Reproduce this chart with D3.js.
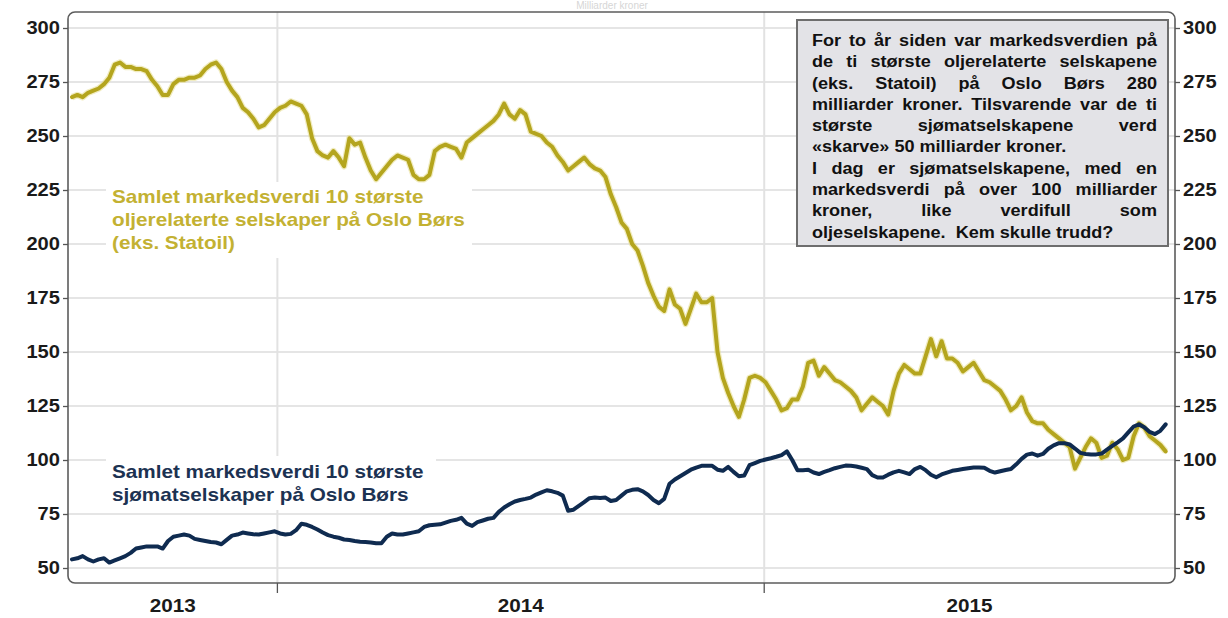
<!DOCTYPE html>
<html><head><meta charset="utf-8">
<script src="https://cdn.jsdelivr.net/npm/d3@7"></script>
<style>body{margin:0;background:#fff}svg{display:block}</style>
</head><body>
<svg id="c" width="1228" height="618"></svg>
<script>
// ---------- data ----------
const startDate = "2013-07-31";   // first observation
const stepDays = 4;               // one observation every 4 days
const oilValues = [
 268,269,268,270,271,272,274,277,283,284,
 282,282,281,281,280,276,273,269,269,274,
 276,276,277,277,278,281,283,284,281,275,
 271,268,263,261,258,254,255,258,261,263,
 264,266,265,264,260,249,243,241,240,243,
 240,236,249,246,247,240,234,230,233,236,
 239,241,240,239,232,230,230,232,243,245,
 246,245,244,240,247,249,251,253,255,257,
 260,265,260,258,262,260,252,251,250,247,
 245,241,238,234,236,238,240,237,235,234,
 231,223,217,210,207,200,197,190,182,176,
 171,169,179,172,170,163,170,177,173,173,
 175,150,138,131,125,120,128,138,139,138,
 136,132,128,123,124,128,128,134,145,146,
 139,143,140,137,136,134,132,129,123,126,
 129,127,125,121,132,140,144,142,140,140,
 148,156,148,155,147,147,145,141,143,145,
 141,137,136,134,132,128,123,125,129,122,
 118,117,117,114,112,110,108,106,96,101,
 106,110,108,101,102,108,105,100,101,111,
 117,115,111,109,107,104
];
const seafoodValues = [
 54,54.5,55.5,54,53,54,54.5,52.5,53.5,54.5,
 55.5,57,59,59.5,60,60,60,59,62.5,64.5,
 65,65.5,65,63.5,63,62.5,62,61.8,61,63,
 65,65.5,66.4,66,65.6,65.5,66,66.5,67,66,
 65.5,65.8,67.5,70.5,70,69,67.8,66.4,65.2,64.5,
 64,63.2,63,62.5,62.2,62,61.8,61.5,61.5,64.5,
 66,65.5,65.5,66,66.5,67,69,69.8,70,70.2,
 71,71.8,72.3,73.2,70.5,69.5,71.2,72,72.8,73.2,
 76,78,79.5,80.8,81.5,82,82.6,84,85,86,
 85.5,84.8,83.5,76.5,77,78.8,80.5,82.3,82.6,82.4,
 82.6,81,81.5,83.5,85.5,86.2,86.5,85.5,83.8,81.5,
 80,82,89,91,92.5,94,95.5,96.5,97.3,97.3,
 97.3,95.5,95,96.8,94.5,92.5,92.8,97.6,98.6,99.6,
 100.2,100.8,101.5,102.3,104,100,95.2,95.3,95.5,94.2,
 93.5,94.5,95.3,96.2,96.8,97.4,97.3,97,96.4,95.8,
 93,91.9,91.9,93.2,94.3,95,94.3,93.5,95.8,96.8,
 95.3,93.2,92,93.3,94.2,95,95.4,95.8,96.2,96.5,
 96.5,96.4,95,94.2,94.8,95.4,95.8,98,100.5,102.5,
 103,102,102.8,105.2,106.8,107.8,107.8,107.2,105.3,103.3,
 102.8,102.6,102.6,103,104.8,106.5,108.2,110,112.8,115.5,
 116.5,115.2,113,112,113.5,116.5
];
const yTicks = [50,75,100,125,150,175,200,225,250,275,300];
const yearLabels = ["2013","2014","2015"];
const oilLabel = ["Samlet markedsverdi 10 største","oljerelaterte selskaper på Oslo Børs","(eks. Statoil)"];
const seafoodLabel = ["Samlet markedsverdi 10 største","sjømatselskaper på Oslo Børs"];
const noteLines = [
 "For to år siden var markedsverdien på",
 "de ti største oljerelaterte selskapene",
 "(eks. Statoil) på Oslo Børs 280",
 "milliarder kroner. Tilsvarende var de ti",
 "største sjømatselskapene verd",
 "«skarve» 50 milliarder kroner.",
 "I dag er sjømatselskapene, med en",
 "markedsverdi på over 100 milliarder",
 "kroner, like verdifull som",
 "oljeselskapene.  Kem skulle trudd?"
];
const noteParagraphEnds = [5, 9];

// ---------- layout ----------
const L = 68, R = 1175, T = 12, B = 583;
const FONT = "'Liberation Sans', Arial, sans-serif";
const SX = 1.15;  // horizontal stretch of the original picture
const oilColor = "#b4a51e", oilText = "#c3b132";
const seaColor = "#0f2b50", seaText = "#1c3252";

const svg = d3.select("#c");
const x = d3.scaleTime().domain([new Date(2013,6,28), new Date(2015,10,5)]).range([L, R]);
const y = d3.scaleLinear().domain([50,300]).range([568,28]);
const d0 = d3.timeParse("%Y-%m-%d")(startDate);
const dates = oilValues.map((_, i) => d3.timeDay.offset(d0, i * stepDays));
const oil = oilValues.map((v, i) => ({date: dates[i], v}));
const sea = seafoodValues.map((v, i) => ({date: dates[i], v}));

// faint caption at the very top
svg.append("text").attr("x", 612).attr("y", 9).attr("text-anchor","middle")
  .attr("font-family", FONT).attr("font-size", 10).attr("fill", "#d6d6d6").text("Milliarder kroner");

// gridlines
const yearStarts = [new Date(2014,0,1), new Date(2015,0,1)];
svg.append("g").selectAll("line").data(yTicks).join("line")
  .attr("x1", L).attr("x2", R).attr("y1", d => y(d)).attr("y2", d => y(d))
  .attr("stroke", "#dcdcdc").attr("stroke-width", 1.6);
svg.append("g").selectAll("line").data(yearStarts).join("line")
  .attr("x1", d => x(d)).attr("x2", d => x(d)).attr("y1", T).attr("y2", B)
  .attr("stroke", "#e2e2e2").attr("stroke-width", 2);

// white backgrounds behind series labels
svg.append("rect").attr("x", 106).attr("y", 182).attr("width", 366).attr("height", 76).attr("fill", "#fff");
svg.append("rect").attr("x", 106).attr("y", 456).attr("width", 330).attr("height", 54).attr("fill", "#fff");

// frame
svg.append("rect").attr("x", L).attr("y", T).attr("width", R - L).attr("height", B - T)
  .attr("rx", 7).attr("fill", "none").attr("stroke", "#5c5c5c").attr("stroke-width", 1.6);

// y axes
function styleAxis(g, anchor) {
  g.select(".domain").remove();
  g.selectAll(".tick line").attr("stroke", "#555").attr("stroke-width", 1.3);
  g.selectAll(".tick text").attr("font-family", FONT).attr("font-size", 17.5)
    .attr("font-weight", "bold").attr("fill", "#1a1a1a")
    .attr("transform", `scale(${SX},1)`).attr("text-anchor", anchor);
}
svg.append("g").attr("transform", `translate(${L},0)`)
  .call(d3.axisLeft(y).tickValues(yTicks).tickSize(5).tickPadding(2).tickFormat(d3.format("d")))
  .call(g => styleAxis(g, "end"));
svg.append("g").attr("transform", `translate(${R},0)`)
  .call(d3.axisRight(y).tickValues(yTicks).tickSize(5).tickPadding(2).tickFormat(d3.format("d")))
  .call(g => styleAxis(g, "start"));

// x axis: year separators and centred year labels
svg.append("g").selectAll("line").data(yearStarts).join("line")
  .attr("x1", d => x(d)).attr("x2", d => x(d)).attr("y1", B).attr("y2", B + 10)
  .attr("stroke", "#555").attr("stroke-width", 1.3);
const dom = x.domain();
yearLabels.forEach(lbl => {
  const yr = +lbl;
  const a = new Date(Math.max(+dom[0], +new Date(yr,0,1)));
  const b = new Date(Math.min(+dom[1], +new Date(yr+1,0,1)));
  const cx = (x(a) + x(b)) / 2;
  svg.append("text").attr("transform", `translate(${cx},612) scale(${SX},1)`)
    .attr("text-anchor", "middle").attr("font-family", FONT).attr("font-size", 18)
    .attr("font-weight", "bold").attr("fill", "#1a1a1a").text(lbl);
});

// lines
const line = d3.line().x(d => x(d.date)).y(d => y(d.v));
svg.append("path").datum(oil).attr("d", line).attr("fill", "none")
  .attr("stroke", "#e6dc8c").attr("stroke-opacity", 0.55).attr("stroke-width", 6.5).attr("stroke-linejoin", "round");
svg.append("path").datum(oil).attr("d", line).attr("fill", "none")
  .attr("stroke", oilColor).attr("stroke-width", 4).attr("stroke-linejoin", "round").attr("stroke-linecap", "round");
svg.append("path").datum(sea).attr("d", line).attr("fill", "none")
  .attr("stroke", seaColor).attr("stroke-width", 4).attr("stroke-linejoin", "round").attr("stroke-linecap", "round");

// series labels
function label(lines, x0, y0, dy, color) {
  const g = svg.append("g").attr("transform", `translate(${x0},0) scale(${SX},1)`);
  lines.forEach((t, i) => g.append("text").attr("x", 0).attr("y", y0 + i * dy)
    .attr("font-family", FONT).attr("font-size", 18).attr("font-weight", "bold")
    .attr("fill", color).text(t));
}
label(oilLabel, 112, 203, 23, oilText);
label(seafoodLabel, 112, 478, 23.5, seaText);

// note box
svg.append("rect").attr("x", 797).attr("y", 20).attr("width", 371).attr("height", 226)
  .attr("fill", "#e3e3e7").attr("stroke", "#6e6e6e").attr("stroke-width", 2);
const NSX = 1.13;
const ng = svg.append("g").attr("transform", `translate(812,0) scale(${NSX},1)`)
  .attr("font-family", FONT).attr("font-size", 16).attr("font-weight", "bold").attr("fill", "#111");
const avail = 345 / NSX;
noteLines.forEach((ln, i) => {
  const yb = 46 + i * 21.3;
  if (noteParagraphEnds.includes(i)) {
    ng.append("text").attr("x", 0).attr("y", yb).style("white-space", "pre").text(ln);
  } else {
    const words = ln.split(/\s+/);
    const items = words.map(w => {
      const t = ng.append("text").attr("y", yb).text(w);
      return {t, w: t.node().getComputedTextLength()};
    });
    const gap = (avail - d3.sum(items, d => d.w)) / (items.length - 1);
    let cx = 0;
    items.forEach(d => { d.t.attr("x", cx); cx += d.w + gap; });
  }
});
</script>
</body></html>
